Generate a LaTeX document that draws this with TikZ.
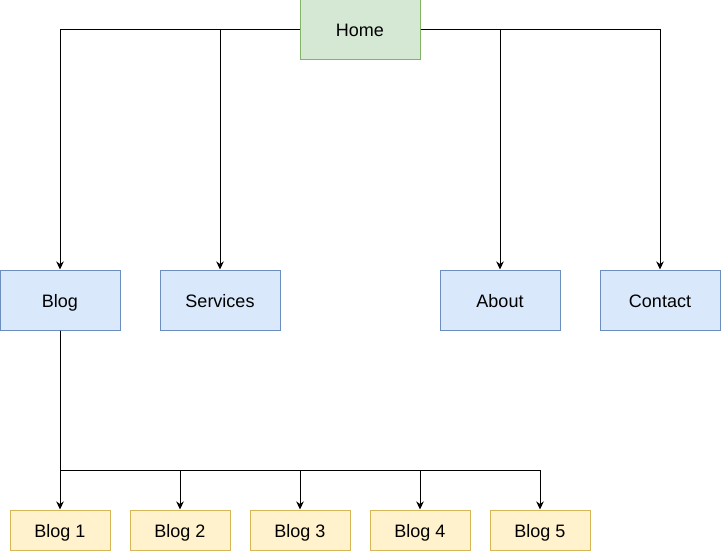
\documentclass[tikz,border=0pt]{standalone}
\usepackage{fontspec}
\setmainfont{Liberation Sans}
\usetikzlibrary{arrows.meta}
\definecolor{gfill}{HTML}{D5E8D4}\definecolor{gdraw}{HTML}{82B366}
\definecolor{bfill}{HTML}{DAE8FC}\definecolor{bdraw}{HTML}{6C8EBF}
\definecolor{yfill}{HTML}{FFF2CC}\definecolor{ydraw}{HTML}{D6B656}
\begin{document}
\begin{tikzpicture}[x=1pt,y=-1pt,
  box/.style={draw,line width=1pt,minimum width=120pt,minimum height=60pt,inner sep=0pt,text height=14pt,text depth=0pt,font=\fontsize{18pt}{20pt}\selectfont},
  homebox/.style={box,fill=gfill,draw=gdraw},
  pagebox/.style={box,fill=bfill,draw=bdraw},
  blogbox/.style={box,fill=yfill,draw=ydraw,minimum width=100pt,minimum height=40pt},
  conn/.style={line width=1pt,-{Stealth[length=8pt,width=7.5pt,inset=2.5pt]}}]
\useasboundingbox (0,0) rectangle (721,551);
\node[homebox] (home) at (360,30) {Home};
\node[pagebox] (blog) at (60,300) {Blog};
\node[pagebox] (services) at (220,300) {Services};
\node[pagebox] (about) at (500,300) {About};
\node[pagebox] (contact) at (660,300) {Contact};
\node[blogbox] (b1) at (60,530) {Blog 1};
\node[blogbox] (b2) at (180,530) {Blog 2};
\node[blogbox] (b3) at (300,530) {Blog 3};
\node[blogbox] (b4) at (420,530) {Blog 4};
\node[blogbox] (b5) at (540,530) {Blog 5};
\coordinate (j) at (60,470);
\draw[conn] (home.west) -| (blog.north);
\draw[conn] (home.west) -| (services.north);
\draw[conn] (home.east) -| (about.north);
\draw[conn] (home.east) -| (contact.north);
\draw[conn] (blog.south) -- (b1.north);
\foreach \b in {b2,b3,b4,b5} \draw[conn] (blog.south) -- (j) -| (\b.north);
\end{tikzpicture}
\end{document}
